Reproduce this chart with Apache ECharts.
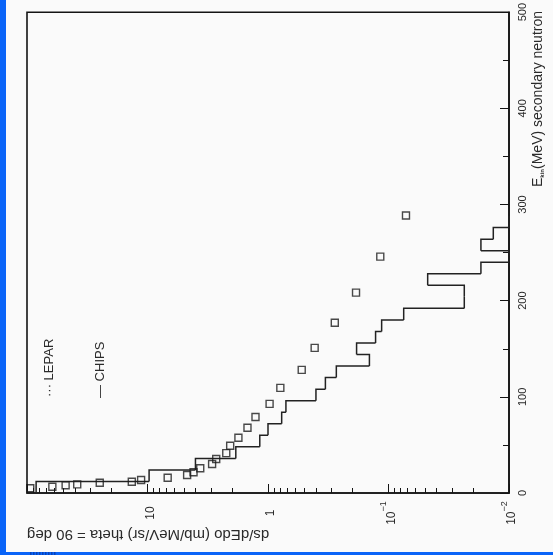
<!DOCTYPE html>
<html>
<head>
<meta charset="utf-8">
<script src="https://cdn.jsdelivr.net/npm/echarts@6/dist/echarts.min.js"></script>
<style>
  html, body { margin: 0; padding: 0; background: #fafafa; }
  #chart { width: 553px; height: 555px; }
</style>
</head>
<body>
<div id="chart"></div>
<script>
// Secondary neutron spectrum at theta = 90 deg: CHIPS histogram and LEPAR points.
// Energy (MeV) runs up the right-hand axis, cross section (log) runs right-to-left.

// CHIPS histogram: 12 MeV bins, value per bin (mb/MeV/sr); 0 = empty bin
const chipsBinEdges = [0, 12, 24, 36, 48, 60, 72, 84, 96, 108, 120, 132, 144,
  156, 168, 180, 192, 204, 216, 228, 240, 252, 264, 276, 288];
const chipsValues = [84, 9.7, 4.0, 1.85, 1.17, 1.0, 0.77, 0.71, 0.40, 0.334,
  0.271, 0.144, 0.184, 0.128, 0.114, 0.0748, 0.0235, 0.0235, 0.0473, 0.0171,
  0, 0.0171, 0.0135, 0];

// LEPAR points
const leparEnergy = [4.9, 6.5, 8.0, 9.0, 10.7, 11.7, 13.5, 15.9, 18.7, 21.5,
  25.8, 30.1, 35.3, 41.5, 49.1, 57.4, 67.8, 79.1, 92.7, 109.3, 128, 150.9,
  177, 208.4, 245.8, 288.5];
const leparValues = [94, 61.6, 47.8, 38.3, 24.9, 13.5, 11.3, 6.8, 4.69, 4.15,
  3.65, 2.91, 2.69, 2.22, 2.06, 1.76, 1.48, 1.27, 0.97, 0.79, 0.525, 0.41,
  0.279, 0.186, 0.117, 0.0716];

// Axis ranges and tick marks
const valueMin = 0.01, valueMax = 100;
const energyMin = 0, energyMax = 500, energyStep = 100;
const logMinorTicks = [
  0.02, 0.03, 0.04, 0.05, 0.06, 0.07, 0.08, 0.09,
  0.2, 0.3, 0.4, 0.5, 0.6, 0.7, 0.8, 0.9,
  2, 3, 4, 5, 6, 7, 8, 9,
  20, 30, 40, 50, 60, 70, 80, 90
];

const ink = '#141414';
const textInk = '#2a2a2a';
const frameBlue = '#0a64f8';
const font = '"Liberation Sans", Arial, Helvetica, sans-serif';

function logLabel(v) {
  if (v > 99) return '';
  if (v > 9) return '{n|10}';
  if (v > 0.9) return '{n|1}';
  const e = Math.round(Math.log10(v));
  return '{n|10}{s|\u2212' + (-e) + '}';
}

const chart = echarts.init(document.getElementById('chart'), null, { renderer: 'canvas' });

const histData = chipsValues.map((v, i) => [Math.max(v, valueMin), chipsBinEdges[i]]);

// thin stripes in the bottom bar
const stripeMarks = [];
for (let k = 0; k < 9; k++) {
  stripeMarks.push({ type: 'rect', x: 30 + k * 3, y: 552, shape: { width: 1.5, height: 3 },
    style: { fill: '#0843b8' }, silent: true });
}

chart.setOption({
  animation: false,
  backgroundColor: '#fafafa',
  grid: {
    left: 27, right: 44, top: 11, bottom: 62,
    show: true, borderColor: ink, borderWidth: 1.6, backgroundColor: 'transparent'
  },
  xAxis: {
    type: 'log', logBase: 10, min: valueMin, max: valueMax, inverse: true,
    position: 'bottom',
    axisLine: { show: true, lineStyle: { color: ink, width: 1.6 } },
    axisTick: { show: true, inside: true, length: 9, lineStyle: { color: ink, width: 1 } },
    splitLine: { show: false },
    axisLabel: {
      rotate: 90, margin: 20, align: 'center', verticalAlign: 'middle',
      hideOverlap: false, showMinLabel: true, showMaxLabel: true,
      formatter: logLabel,
      rich: {
        n: { fontFamily: font, fontSize: 12, color: textInk, lineHeight: 18, verticalAlign: 'bottom' },
        s: { fontFamily: font, fontSize: 9, color: textInk, lineHeight: 10, verticalAlign: 'top' }
      }
    }
  },
  yAxis: {
    type: 'value', min: energyMin, max: energyMax, interval: energyStep,
    position: 'right',
    axisLine: { show: true, lineStyle: { color: ink, width: 1.6 } },
    axisTick: { show: true, inside: true, length: 9, lineStyle: { color: ink, width: 1 } },
    minorTick: { show: true, splitNumber: 2, length: 6, lineStyle: { color: ink, width: 1 } },
    splitLine: { show: false },
    minorSplitLine: { show: false },
    axisLabel: {
      rotate: 90, margin: 8, fontFamily: font, fontSize: 11, color: textInk,
      showMinLabel: true, showMaxLabel: true
    }
  },
  graphic: [
    { type: 'rect', x: 0, y: 0, shape: { width: 6, height: 555 }, style: { fill: frameBlue }, silent: true },
    { type: 'rect', x: 0, y: 552, shape: { width: 553, height: 3 }, style: { fill: frameBlue }, silent: true },
    ...stripeMarks,
    {
      type: 'text', x: 27, y: 534, rotation: Math.PI, silent: true,
      style: {
        text: 'ds/dEdo (mb/MeV/sr) theta = 90 deg',
        font: '15px ' + font, fill: textInk,
        textAlign: 'right', textVerticalAlign: 'middle'
      }
    },
    {
      type: 'text', x: 537, y: 11, rotation: Math.PI / 2, silent: true,
      style: {
        text: '{e|E}{k|kin}{t|(MeV) secondary neutron}',
        textAlign: 'right', textVerticalAlign: 'middle',
        rich: {
          e: { font: '14px ' + font, fill: textInk, lineHeight: 16, verticalAlign: 'bottom' },
          k: { font: 'bold 6px ' + font, fill: textInk, lineHeight: 16, verticalAlign: 'bottom' },
          t: { font: '14px ' + font, fill: textInk, lineHeight: 16, verticalAlign: 'bottom' }
        }
      }
    },
    {
      type: 'text', x: 49, y: 397, rotation: Math.PI / 2, silent: true,
      style: {
        text: '\u00b7\u00b7\u00b7 LEPAR', font: '13px ' + font, fill: textInk,
        textAlign: 'left', textVerticalAlign: 'middle'
      }
    },
    {
      type: 'text', x: 100, y: 398, rotation: Math.PI / 2, silent: true,
      style: {
        text: '\u2014 CHIPS', font: '13px ' + font, fill: textInk,
        textAlign: 'left', textVerticalAlign: 'middle'
      }
    }
  ],
  series: [
    {
      // log-spaced minor ticks along the value axis
      name: 'minorTicks', type: 'custom', silent: true, clip: false,
      data: logMinorTicks.map(v => [v, energyMin]),
      encode: { x: 0, y: 1 },
      renderItem: (params, api) => {
        const p = api.coord([api.value(0), api.value(1)]);
        const x = Math.round(p[0]) + 0.5;
        return {
          type: 'line',
          shape: { x1: x, y1: p[1], x2: x, y2: p[1] - 5 },
          style: { stroke: ink, lineWidth: 1 }
        };
      }
    },
    {
      name: 'CHIPS', type: 'custom', silent: true, clip: false,
      data: histData,
      encode: { x: 0, y: 1 },
      renderItem: (params, api) => {
        const i = params.dataIndex;
        const v = api.value(0);
        const e0 = chipsBinEdges[i], e1 = chipsBinEdges[i + 1];
        const pts = [api.coord([v, e0]), api.coord([v, e1])];
        if (i + 1 < chipsValues.length) {
          pts.push(api.coord([Math.max(chipsValues[i + 1], valueMin), e1]));
        }
        return {
          type: 'polyline',
          shape: { points: pts },
          style: { stroke: '#222', lineWidth: 1.5, fill: null }
        };
      }
    },
    {
      name: 'LEPAR', type: 'scatter', clip: false, silent: true,
      symbol: 'rect', symbolSize: 7,
      itemStyle: { color: 'rgba(0,0,0,0)', borderColor: '#1c1c1c', borderWidth: 1.4 },
      data: leparEnergy.map((e, i) => [leparValues[i], e])
    }
  ]
});
</script>
</body>
</html>
